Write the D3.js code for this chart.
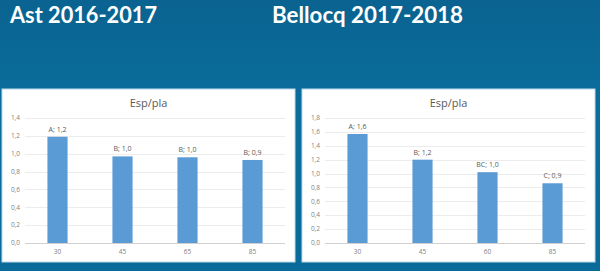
<!DOCTYPE html>
<html>
<head>
<meta charset="utf-8">
<script src="https://cdn.jsdelivr.net/npm/d3@7"></script>
<style>
  html, body { margin: 0; padding: 0; background: #0b6c9b; }
  svg { display: block; }
</style>
</head>
<body>
<div id="chart"></div>
<script>
// Data
const categoriesAst = ['30', '45', '65', '85'];
const valuesAst = [1.19, 0.97, 0.96, 0.93];
const labelsAst = ['A; 1,2', 'B; 1,0', 'B; 1,0', 'B; 0,9'];
const ticksAst = [0, 0.2, 0.4, 0.6, 0.8, 1.0, 1.2, 1.4];

const categoriesBel = ['30', '45', '60', '85'];
const valuesBel = [1.57, 1.20, 1.02, 0.86];
const labelsBel = ['A; 1,6', 'B; 1,2', 'BC; 1,0', 'C; 0,9'];
const ticksBel = [0, 0.2, 0.4, 0.6, 0.8, 1.0, 1.2, 1.4, 1.6, 1.8];

const W = 600, H = 271;
const fmt = d => d3.format('.1f')(d).replace('.', ',');

const svg = d3.select('#chart').append('svg')
  .attr('width', W).attr('height', H);

// Background gradient
const defs = svg.append('defs');
const grad = defs.append('linearGradient').attr('id', 'bg')
  .attr('x1', 0).attr('y1', 0).attr('x2', 0).attr('y2', 1);
grad.append('stop').attr('offset', '0%').attr('stop-color', '#0a6390');
grad.append('stop').attr('offset', '40%').attr('stop-color', '#0a6e9d');
grad.append('stop').attr('offset', '100%').attr('stop-color', '#0a6a99');
svg.append('rect').attr('width', W).attr('height', H).attr('fill', 'url(#bg)');

// Slide titles
const titleFont = 'Lato, "Open Sans", sans-serif';
svg.append('text').attr('x', 10).attr('y', 23)
  .attr('font-family', titleFont).attr('font-weight', 700)
  .attr('font-size', 23).attr('fill', '#ffffff')
  .attr('textLength', 147).attr('lengthAdjust', 'spacingAndGlyphs')
  .text('Ast 2016-2017');
svg.append('text').attr('x', 272).attr('y', 23)
  .attr('font-family', titleFont).attr('font-weight', 700)
  .attr('font-size', 23).attr('fill', '#ffffff')
  .attr('textLength', 191).attr('lengthAdjust', 'spacingAndGlyphs')
  .text('Bellocq 2017-2018');

function drawChart(x0, categories, values, labels, ticks, maxY) {
  const box = { x: x0, y: 89, w: 293, h: 173 };
  const g = svg.append('g').attr('transform', `translate(${box.x},${box.y})`);

  g.append('rect')
    .attr('width', box.w).attr('height', box.h)
    .attr('fill', '#ffffff')
    .attr('stroke', '#bcd8ea').attr('stroke-width', 1);

  const plot = { left: 23, right: 283, top: 29, bottom: 154 };

  const x = d3.scaleBand()
    .domain(categories)
    .range([plot.left, plot.right])
    .paddingInner(0.69)
    .paddingOuter(0.345);

  const y = d3.scaleLinear()
    .domain([0, maxY])
    .range([plot.bottom, plot.top]);

  // Gridlines
  g.append('g').selectAll('line')
    .data(ticks)
    .join('line')
    .attr('x1', plot.left).attr('x2', plot.right)
    .attr('y1', d => Math.round(y(d)) + 0.5)
    .attr('y2', d => Math.round(y(d)) + 0.5)
    .attr('stroke', d => d === 0 ? '#d0d0d0' : '#ececec')
    .attr('stroke-width', 1);

  // Y tick labels
  g.append('g').selectAll('text')
    .data(ticks)
    .join('text')
    .attr('x', plot.left - 5)
    .attr('y', d => y(d))
    .attr('dy', '0.35em')
    .attr('text-anchor', 'end')
    .attr('font-family', '"Open Sans", sans-serif')
    .attr('font-size', 6.5)
    .attr('fill', '#7f7f7f')
    .text(fmt);

  // X labels
  g.append('g').selectAll('text')
    .data(categories)
    .join('text')
    .attr('x', d => x(d) + x.bandwidth() / 2)
    .attr('y', plot.bottom + 11)
    .attr('text-anchor', 'middle')
    .attr('font-family', '"Open Sans", sans-serif')
    .attr('font-size', 6.5)
    .attr('fill', '#7f7f7f')
    .text(d => d);

  // Bars
  g.append('g').selectAll('rect')
    .data(values)
    .join('rect')
    .attr('x', (d, i) => x(categories[i]))
    .attr('width', x.bandwidth())
    .attr('y', d => y(d))
    .attr('height', d => plot.bottom - y(d))
    .attr('fill', '#5b9bd5');

  // Data labels
  g.append('g').selectAll('text')
    .data(values)
    .join('text')
    .attr('x', (d, i) => x(categories[i]) + x.bandwidth() / 2)
    .attr('y', d => y(d) - 5)
    .attr('text-anchor', 'middle')
    .attr('font-family', '"Open Sans", sans-serif')
    .attr('font-size', 7)
    .attr('fill', '#595959')
    .text((d, i) => labels[i]);

  // Chart title
  g.append('text')
    .attr('x', box.w / 2)
    .attr('y', 18)
    .attr('text-anchor', 'middle')
    .attr('font-family', '"Open Sans", sans-serif')
    .attr('font-size', 11)
    .attr('fill', '#595959')
    .text('Esp/pla');
}

drawChart(2, categoriesAst, valuesAst, labelsAst, ticksAst, 1.4);
drawChart(302, categoriesBel, valuesBel, labelsBel, ticksBel, 1.8);
</script>
</body>
</html>
